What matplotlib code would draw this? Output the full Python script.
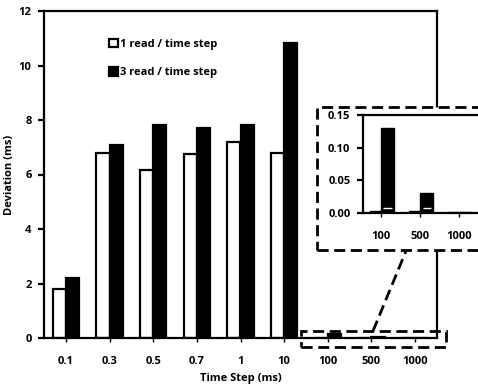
import numpy as np
import matplotlib.pyplot as plt
from matplotlib.patches import Rectangle
from matplotlib.lines import Line2D

plt.rcParams['font.family'] = ['Open Sans', 'DejaVu Sans']
plt.rcParams['font.weight'] = 'bold'
plt.rcParams['font.size'] = 8

# data
steps = ['0.1', '0.3', '0.5', '0.7', '1', '10', '100', '500', '1000']
one_read = [1.78, 6.80, 6.17, 6.75, 7.20, 6.78, 0.003, 0.003, 0.002]
three_read = [2.20, 7.08, 7.82, 7.72, 7.80, 10.82, 0.13, 0.031, 0.002]
zoom_steps = ['100', '500', '1000']
zoom_one = [0.003, 0.003, 0.002]
zoom_three = [0.13, 0.031, 0.002]
zoom_mark = [0.008, 0.008, 0.0]   # thin white marks inside black bars

W, H = 478, 388
fig = plt.figure(figsize=(W / 100, H / 100), dpi=100)

def fx(px):
    return px / W

def fy(py):
    return 1 - py / H

lw = 1.6

# main chart
ax = fig.add_axes([fx(44), fy(338), fx(437) - fx(44), fy(11) - fy(338)])
x = np.arange(len(steps))
ax.bar(x - 0.3, one_read, width=0.3, align='edge', color='white',
       edgecolor='black', linewidth=lw, label='1 read / time step')
ax.bar(x, three_read, width=0.3, align='edge', color='black',
       edgecolor='black', linewidth=lw, label='3 read / time step')
ax.set_xlim(-0.5, len(steps) - 0.5)
ax.set_ylim(0, 12)
ax.set_yticks(np.arange(0, 13, 2))
ax.set_xticks(x)
ax.set_xticklabels(steps)
ax.tick_params(axis='y', length=4, width=lw, pad=5)
ax.tick_params(axis='x', length=3, width=1, pad=10)
for s in ax.spines.values():
    s.set_linewidth(lw)
ax.set_xlabel('Time Step (ms)', fontsize=8, fontweight='bold', labelpad=4)
ax.set_ylabel('Deviation (ms)', fontsize=8, fontweight='bold')
ax.yaxis.set_label_coords(-0.075, 0.5)
ax.legend(loc='upper left', bbox_to_anchor=(0.14, 0.945), frameon=False,
          handlelength=0.8, handleheight=0.8, handletextpad=0.15,
          labelspacing=1.55, prop={'size': 8, 'weight': 'bold'})

# white dashed frame behind the inset
fig.patches.append(Rectangle((fx(317), fy(250)), fx(495) - fx(317), fy(107) - fy(250),
                             transform=fig.transFigure, facecolor='white',
                             edgecolor='black', linewidth=2, linestyle=(0, (4, 2)),
                             zorder=1))
# small dashed frame around the tiny bars
fig.patches.append(Rectangle((fx(301), fy(347)), fx(446) - fx(301), fy(331) - fy(347),
                             transform=fig.transFigure, facecolor='none',
                             edgecolor='black', linewidth=2, linestyle=(0, (4, 2)),
                             zorder=1))
fig.lines.append(Line2D([fx(373), fx(406)], [fy(331), fy(251)],
                        transform=fig.transFigure, color='black', linewidth=2,
                        linestyle=(0, (4, 2)), zorder=1))

# inset
ins = fig.add_axes([fx(363), fy(213), fx(483) - fx(363), fy(115) - fy(213)])
ins.set_zorder(5)
xi = np.arange(len(zoom_steps))
ins.bar(xi - 0.28, zoom_one, width=0.28, align='edge', color='white',
        edgecolor='black', linewidth=1)
ins.bar(xi, zoom_three, width=0.33, align='edge', color='black',
        edgecolor='black', linewidth=1)
ins.hlines([v if v > 0 else np.nan for v in zoom_mark], xi + 0.06, xi + 0.27,
           color='white', linewidth=1)
ins.set_xlim(-0.46, 2.6)
ins.set_ylim(0, 0.15)
ins.set_yticks([0, 0.05, 0.10, 0.15])
ins.set_yticklabels(['0.00', '0.05', '0.10', '0.15'])
ins.set_xticks(xi)
ins.set_xticklabels(zoom_steps)
ins.tick_params(axis='y', length=4, width=lw, pad=5)
ins.tick_params(axis='x', length=3, width=1, pad=10)
for s in ins.spines.values():
    s.set_linewidth(lw)
for lab in ax.get_xticklabels() + ax.get_yticklabels() + \
        ins.get_xticklabels() + ins.get_yticklabels():
    lab.set_fontweight('bold')

fig.savefig('out.png', dpi=100)
